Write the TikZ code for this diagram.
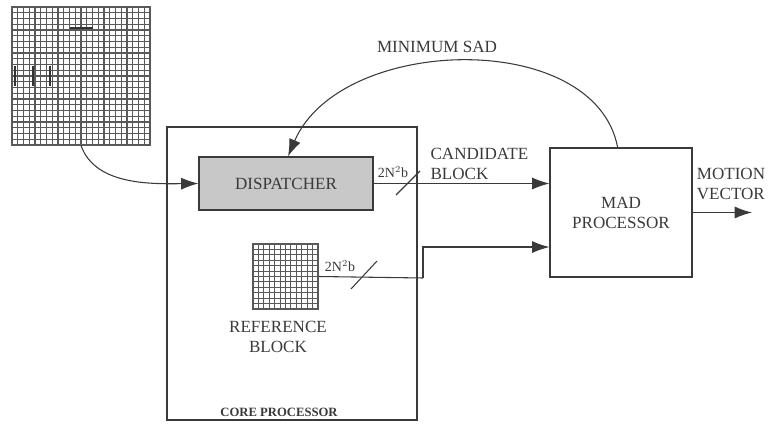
\documentclass[tikz,border=0pt]{standalone}
\usepackage{fontspec}
\setmainfont{Liberation Serif}
\usetikzlibrary{positioning,arrows.meta}

\definecolor{inkgray}{HTML}{3A3A3A}
\definecolor{dispgray}{HTML}{C8C8C8}

\tikzset{
  box/.style={draw=inkgray, line width=0.8pt, inner sep=0pt, text=inkgray, align=center},
  gridline/.style={draw=black!65, line width=0.85pt},
  arr/.style={draw=inkgray, line width=0.8pt, -{Latex[length=13pt,width=9pt]}},
  wire/.style={draw=inkgray, line width=0.8pt},
  lbl/.style={text=inkgray, inner sep=1pt, align=center},
}

\begin{document}
\begin{tikzpicture}[x=0.75pt,y=-0.75pt,font=\fontsize{12.8}{14}\selectfont]
\useasboundingbox (0,0) rectangle (769,431);

% frame search area
\node[box, draw=black!65, minimum width=103.5pt, minimum height=103.5pt] (biggrid) at (81,76) {};
\foreach \k in {0,...,24} {
  \draw[gridline] (12+\k*5.75,7) -- ++(0,138);
  \draw[gridline] (12,7+\k*5.75) -- ++(138,0);
}
\draw[black!80, line width=1.5pt] (70,28) -- (93,28);
\foreach \xx in {15,33,50}
  \draw[black!80, line width=1.5pt] (\xx,66) -- (\xx,86);

% core processor
\node[box, minimum width=187.5pt, minimum height=219.75pt] (core) at (292,273.5) {};
\node[lbl, font=\fontsize{9.5}{11}\selectfont\bfseries] (corelbl) at (279,412) {CORE PROCESSOR};

\node[box, fill=dispgray, minimum width=130.5pt, minimum height=39.75pt] (disp) at (286,183.5) {DISPATCHER};

% reference block
\node[box, draw=black!65, minimum width=48.75pt, minimum height=48.75pt] (refgrid) at (285.5,276.5) {};
\foreach \k in {0,...,12} {
  \draw[gridline] (253+\k*5.4167,244) -- ++(0,65);
  \draw[gridline] (253,244+\k*5.4167) -- ++(65,0);
}
\node[lbl] (reflbl) at (278,337) {REFERENCE\\[1pt]BLOCK};

% MAD processor
\node[box, minimum width=106.5pt, minimum height=96.75pt] (mad) at (621,212.5) {MAD\\[1pt]PROCESSOR};

% connections
\draw[arr] (biggrid.south) .. controls (95,185) and (150,184) .. (disp.west);
\draw[arr] (disp.east) -- (disp.east -| mad.west);
\coordinate (refin) at ([yshift=-25.9pt]mad.west);
\coordinate (bend) at (423,278);
\draw[wire] (refgrid.east) -- (bend);
\draw[arr] (bend) |- (refin);
\draw[arr] ([xshift=-2.5pt]mad.north) .. controls (595,28) and (340,35) .. ([xshift=1.5pt]disp.north);
\coordinate (mvend) at (752,212.5);
\draw[arr] (mad.east) -- (mvend);

% bus width marks
\draw[wire] (396,195) -- (420,171);
\draw[wire] (351,289) -- (377,261);
\node[lbl, font=\fontsize{10.5}{11}\selectfont] (bw1) at (393,172) {2N$^{2}$b};
\node[lbl, font=\fontsize{10.5}{11}\selectfont] (bw2) at (340,266) {2N$^{2}$b};

% labels
\node[lbl, align=left, anchor=west] (candlbl) at (429,164) {CANDIDATE\\[1pt]BLOCK};
\node[lbl] (sadlbl) at (437,47) {MINIMUM SAD};
\node[lbl, align=left] (mvlbl) at (731,184) {MOTION\\[1pt]VECTOR};

\end{tikzpicture}
\end{document}
